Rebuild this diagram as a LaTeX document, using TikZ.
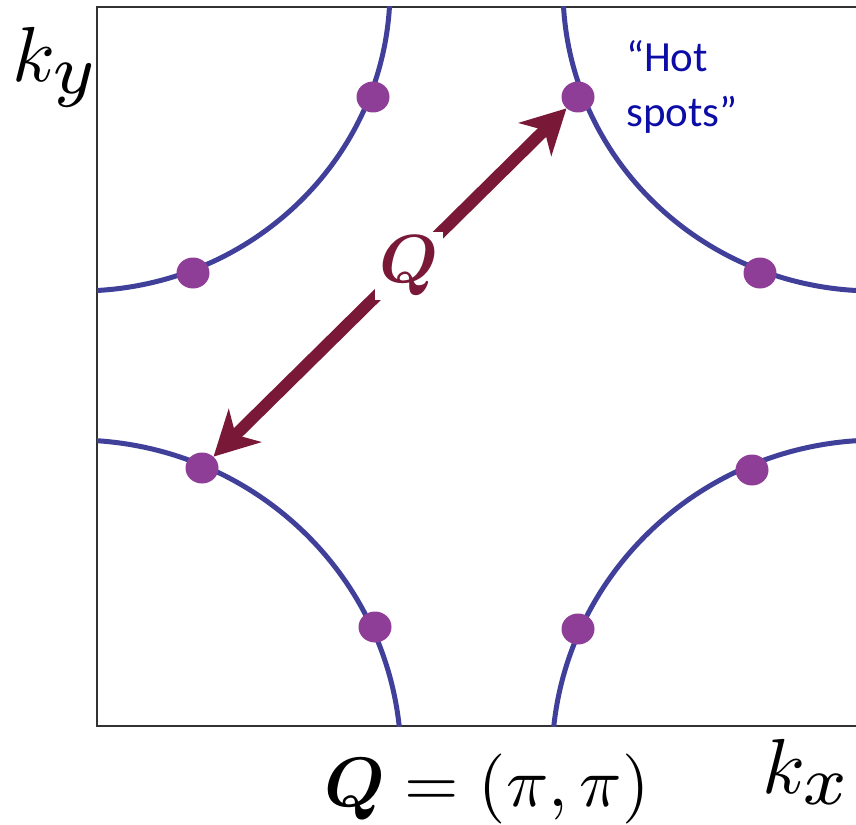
\documentclass[tikz,border=0pt]{standalone}
\usepackage{amsmath}
\usepackage{bm}
\usepackage{fontspec}
\newfontfamily\hotfont{Carlito}
\usetikzlibrary{arrows.meta,shapes.geometric}
\definecolor{fsblue}{RGB}{64,64,155}
\definecolor{hsdot}{RGB}{142,62,150}
\definecolor{qred}{RGB}{122,24,56}
\definecolor{hottxt}{RGB}{12,12,166}
\definecolor{framegray}{RGB}{50,50,50}
\newcommand{\bigmath}[2]{\scalebox{#1}{$#2$}}
\begin{document}
\begin{tikzpicture}[x=1pt,y=-1pt,
  fermi/.style={draw=fsblue,line width=5pt},
  hotdot/.style={ellipse,fill=hsdot,minimum width=33pt,minimum height=31pt,inner sep=0pt},
  qarrow/.style={draw=qred,line width=12pt,
    {Stealth[length=44pt,width=46pt,inset=13pt]}-{Stealth[length=44pt,width=46pt,inset=13pt]}},
  qlabel/.style={fill=white,text=qred,inner sep=4pt},
  axlabel/.style={inner sep=0pt},
  formula/.style={inner sep=0pt},
  hotlabel/.style={font=\hotfont\fontsize{43}{55}\selectfont,text=hottxt,align=left,inner sep=0pt}]
\useasboundingbox (0,0) rectangle (856,824);
% frame (left, top, bottom)
\draw[framegray,line width=2pt] (856,7) -- (97,7) -- (97,726) -- (856,726);
% Fermi surface arcs
\begin{scope}
  \clip (97,7) rectangle (856,726);
  \draw[fermi] (79,-11) ellipse [x radius=311, y radius=302];
  \draw[fermi] (874,-11) ellipse [x radius=311, y radius=302];
  \draw[fermi] (75,760) ellipse [x radius=326, y radius=320];
  \draw[fermi] (878,760) ellipse [x radius=326, y radius=320];
\end{scope}
% hot spots
\node[hotdot] (tl1) at (373,97) {};
\node[hotdot] (tl2) at (193,273) {};
\node[hotdot] (tr1) at (578,97) {};
\node[hotdot] (tr2) at (760,273) {};
\node[hotdot] (bl1) at (202,468) {};
\node[hotdot] (bl2) at (375,627) {};
\node[hotdot] (br1) at (752,470) {};
\node[hotdot] (br2) at (578,629) {};
% nesting vector
\draw[qarrow] (bl1) -- (tr1);
\node[qlabel] (qlab) at (409,266) {\bigmath{6.8}{\bm{Q}}};
% labels
\node[axlabel,anchor=base west] (ky) at (12,82) {\bigmath{7.8}{k_{\mbox{\scalebox{1.28}{$\scriptstyle y$}}}}};
\node[axlabel,anchor=base west] (kx) at (762,793) {\bigmath{7.8}{k_{\mbox{\scalebox{1.28}{$\scriptstyle x$}}}}};
\node[formula,anchor=base] (qeq) at (487,806) {\bigmath{7.0}{\bm{Q}=(\pi,\pi)}};
\node[hotlabel,anchor=north west] (hot) at (626,40) {“Hot\\spots”};
\end{tikzpicture}
\end{document}
